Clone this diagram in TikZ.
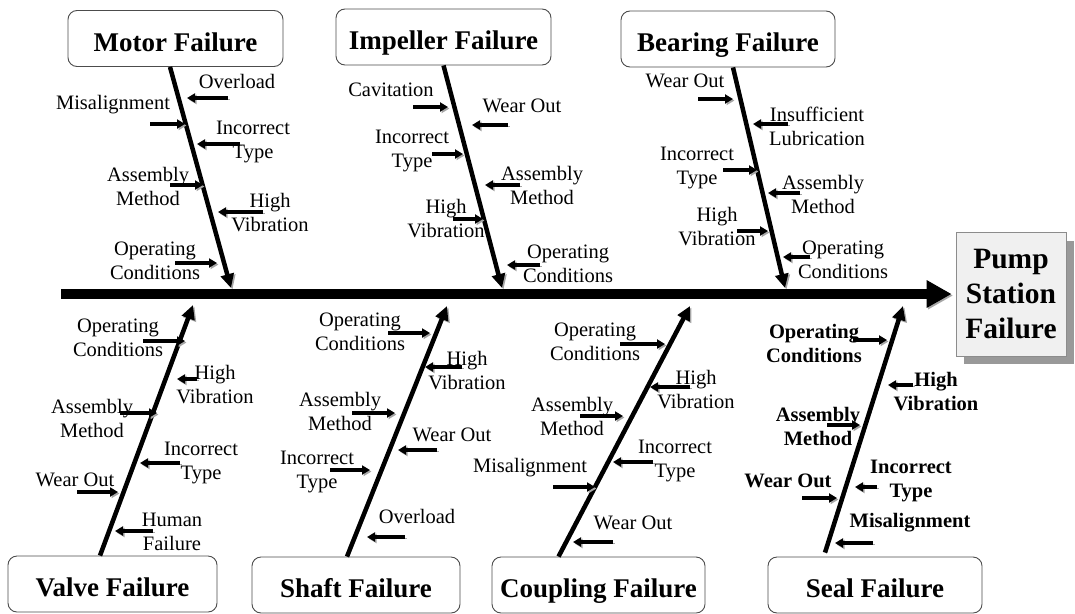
\documentclass[tikz,border=0pt]{standalone}
\usepackage{fontspec}
\setmainfont{Liberation Serif}
\usetikzlibrary{arrows.meta}

% a short horizontal cause arrow: name, start x, end x, y
\newcommand\subarrow[4]{%
  \coordinate (#1a) at (#2,#4);
  \coordinate (#1b) at (#3,#4);
  \draw[sub] (#1a) -- (#1b);}

\begin{document}
\begin{tikzpicture}[x=1pt,y=-1pt,
  lbl/.style={font=\fontsize{20.5}{24}\selectfont, align=center, inner sep=0pt},
  blbl/.style={lbl, font=\fontsize{20.5}{24}\selectfont\bfseries},
  causebox/.style={draw=black!70, line width=0.9pt, rounded corners=9pt, fill=white,
    font=\fontsize{27}{32}\selectfont\bfseries, text height=25pt, text depth=0pt,
    inner sep=0pt, minimum height=56pt},
  effectbox/.style={draw=black!45, line width=0.8pt, fill=black!6,
    font=\fontsize{29.5}{35}\selectfont\bfseries, align=center, inner sep=0pt,
    minimum width=110pt, minimum height=124pt},
  shade/.style={preaction={draw=black!35, transform canvas={shift={(1.5pt,-1.5pt)}}}},
  bone/.style={shade, line width=4.5pt, -{Triangle[length=14pt,width=13pt]}},
  sub/.style={shade, line width=3.2pt, -{Triangle[length=8pt,width=9pt]}},
  spine/.style={shade, line width=9.5pt, -{Triangle[length=25pt,width=26pt]}},
]
\useasboundingbox (0,0) rectangle (1075,613);

% effect box with its drop shadow
\fill[black!40] (964,241) rectangle (1074,364);
\node[effectbox] (pump) at (1011,294) {Pump\\Station\\Failure};

% main spine
\coordinate (spineS) at (61,294);
\draw[spine] (spineS) -- ([xshift=-4pt]pump.west);

% cause category boxes
\node[causebox, minimum width=215pt] (motor)    at (175.5,38.5) {Motor Failure};
\node[causebox, minimum width=215pt] (impeller) at (443.5,37)   {Impeller Failure};
\node[causebox, minimum width=214pt] (bearing)  at (728,39)     {Bearing Failure};
\node[causebox, minimum width=209pt] (valve)    at (112.5,584)  {Valve Failure};
\node[causebox, minimum width=208pt] (shaft)    at (356,585)    {Shaft Failure};
\node[causebox, minimum width=213pt] (coupling) at (598.5,585)  {Coupling Failure};
\node[causebox, minimum width=214pt] (seal)     at (875,585)    {Seal Failure};

% bones joining each category to the spine
\coordinate (motorTip)    at (231,288);
\coordinate (impellerTip) at (502,288);
\coordinate (bearingTip)  at (785,288);
\coordinate (valveTip)    at (193,305);
\coordinate (shaftTip)    at (447,306);
\coordinate (couplingTip) at (690,306);
\coordinate (sealTip)     at (903,306);
\draw[bone] ([xshift=-5.5pt]motor.south) -- (motorTip);
\draw[bone] (impeller.south) -- (impellerTip);
\draw[bone] ([xshift=5pt]bearing.south) -- (bearingTip);
\draw[bone] ([xshift=-12.5pt]valve.north) -- (valveTip);
\draw[bone] ([xshift=-9pt]shaft.north) -- (shaftTip);
\draw[bone] ([xshift=-40pt]coupling.north) -- (couplingTip);
\draw[bone] ([xshift=-50pt,yshift=4pt]seal.north) -- (sealTip);

% Motor Failure causes
\subarrow{mo1}{228}{187}{98}
\subarrow{mo2}{150}{185}{124}
\subarrow{mo3}{240}{197}{144}
\subarrow{mo4}{170}{203}{185}
\subarrow{mo5}{263}{218}{212}
\subarrow{mo6}{175}{217}{263}
\node[lbl] (mo1t) at (237,81)  {Overload};
\node[lbl] (mo2t) at (113,105) {Misalignment};
\node[lbl] (mo3t) at (253,142) {Incorrect\\Type};
\node[lbl] (mo4t) at (148,186) {Assembly\\Method};
\node[lbl] (mo5t) at (270,213) {High\\Vibration};
\node[lbl] (mo6t) at (155,261) {Operating\\Conditions};

% Impeller Failure causes
\subarrow{im1}{413}{448}{107}
\subarrow{im2}{508}{472}{125}
\subarrow{im3}{432}{463}{154}
\subarrow{im4}{520}{485}{185}
\subarrow{im5}{453}{483}{219}
\subarrow{im6}{540}{507}{265}
\node[lbl] (im1t) at (391,90)  {Cavitation};
\node[lbl] (im2t) at (522,106) {Wear Out};
\node[lbl] (im3t) at (412,151) {Incorrect\\Type};
\node[lbl] (im4t) at (542,185) {Assembly\\Method};
\node[lbl] (im5t) at (446,219) {High\\Vibration};
\node[lbl] (im6t) at (568,264) {Operating\\Conditions};

% Bearing Failure causes
\subarrow{be1}{698}{733}{99}
\subarrow{be2}{788}{753}{124}
\subarrow{be3}{723}{757}{170}
\subarrow{be4}{800}{768}{193}
\subarrow{be5}{737}{768}{231}
\subarrow{be6}{810}{783}{257}
\node[lbl] (be1t) at (685,81)  {Wear Out};
\node[lbl] (be2t) at (817,126) {Insufficient\\Lubrication};
\node[lbl] (be3t) at (697,168) {Incorrect\\Type};
\node[lbl] (be4t) at (823,194) {Assembly\\Method};
\node[lbl] (be5t) at (717,227) {High\\Vibration};
\node[lbl] (be6t) at (843,260) {Operating\\Conditions};

% Valve Failure causes
\subarrow{va1}{143}{185}{341}
\subarrow{va2}{197}{177}{379}
\subarrow{va3}{120}{157}{413}
\subarrow{va4}{180}{140}{463}
\subarrow{va5}{77}{118}{492}
\subarrow{va6}{153}{115}{531}
\node[lbl] (va1t) at (118,338) {Operating\\Conditions};
\node[lbl] (va2t) at (215,385) {High\\Vibration};
\node[lbl] (va3t) at (92,418)  {Assembly\\Method};
\node[lbl] (va4t) at (201,463) {Incorrect\\Type};
\node[lbl] (va5t) at (75,480)  {Wear Out};
\node[lbl] (va6t) at (172,532) {Human\\Failure};

% Shaft Failure causes
\subarrow{sh1}{388}{430}{333}
\subarrow{sh2}{462}{425}{367}
\subarrow{sh3}{352}{395}{413}
\subarrow{sh4}{437}{398}{450}
\subarrow{sh5}{330}{370}{470}
\subarrow{sh6}{405}{367}{537}
\node[lbl] (sh1t) at (360,332) {Operating\\Conditions};
\node[lbl] (sh2t) at (467,371) {High\\Vibration};
\node[lbl] (sh3t) at (340,411) {Assembly\\Method};
\node[lbl] (sh4t) at (452,435) {Wear Out};
\node[lbl] (sh5t) at (317,472) {Incorrect\\Type};
\node[lbl] (sh6t) at (417,516) {Overload};

% Coupling Failure causes
\subarrow{co1}{620}{665}{344}
\subarrow{co2}{690}{650}{387}
\subarrow{co3}{580}{623}{416}
\subarrow{co4}{653}{613}{462}
\subarrow{co5}{553}{595}{487}
\subarrow{co6}{613}{573}{542}
\node[lbl] (co1t) at (595,342) {Operating\\Conditions};
\node[lbl] (co2t) at (696,390) {High\\Vibration};
\node[lbl] (co3t) at (572,416) {Assembly\\Method};
\node[lbl] (co4t) at (675,461) {Incorrect\\Type};
\node[lbl] (co5t) at (530,468) {Misalignment};
\node[lbl] (co6t) at (633,523) {Wear Out};

% Seal Failure causes
\subarrow{se1}{853}{887}{340}
\subarrow{se2}{913}{888}{385}
\subarrow{se3}{827}{860}{425}
\subarrow{se4}{877}{855}{487}
\subarrow{se5}{802}{837}{498}
\subarrow{se6}{873}{835}{543}
\node[blbl] (se1t) at (814,343) {Operating\\Conditions};
\node[blbl] (se2t) at (936,392) {High\\Vibration};
\node[blbl] (se3t) at (818,426) {Assembly\\Method};
\node[blbl] (se4t) at (911,481) {Incorrect\\Type};
\node[blbl] (se5t) at (788,481) {Wear Out};
\node[blbl] (se6t) at (910,523) {Misalignment};
\end{tikzpicture}
\end{document}
